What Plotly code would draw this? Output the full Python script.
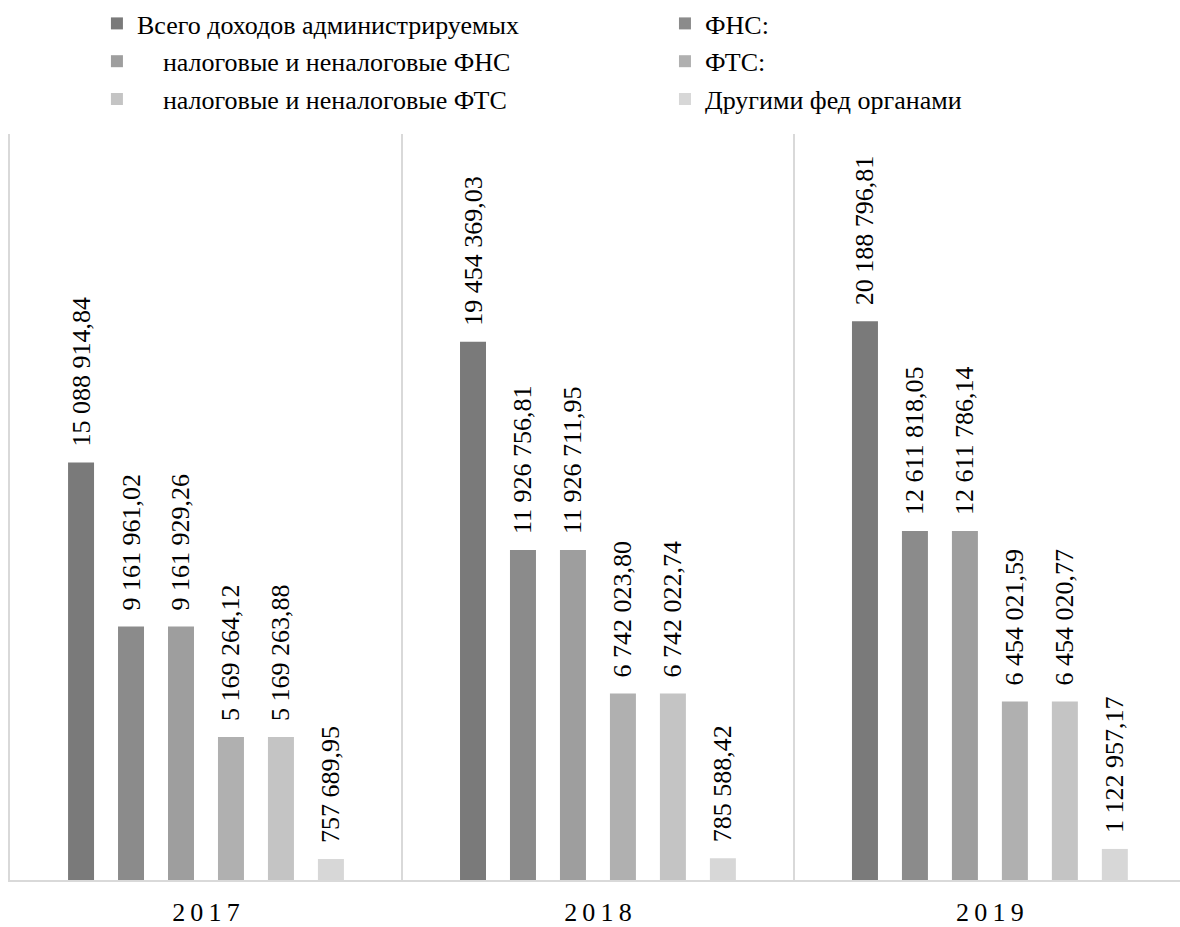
import plotly.graph_objects as go

years = ["2017", "2018", "2019"]
year_ticks = ["2\u20090\u20091\u20097", "2\u20090\u20091\u20098", "2\u20090\u20091\u20099"]

series_names = [
    "Всего доходов администрируемых",
    "ФНС:",
    "\u00a0\u00a0\u00a0\u00a0налоговые и неналоговые ФНС",
    "ФТС:",
    "\u00a0\u00a0\u00a0\u00a0налоговые и неналоговые ФТС",
    "Другими фед органами",
]

total_admin = [15088914.84, 19454369.03, 20188796.81]
fns = [9161961.02, 11926756.81, 12611818.05]
fns_tax = [9161929.26, 11926711.95, 12611786.14]
fts = [5169264.12, 6742023.80, 6454021.59]
fts_tax = [5169263.88, 6742022.74, 6454020.77]
other_bodies = [757689.95, 785588.42, 1122957.17]

series_values = [total_admin, fns, fns_tax, fts, fts_tax, other_bodies]
colors = ["#7a7a7a", "#8b8b8b", "#9e9e9e", "#b0b0b0", "#c4c4c4", "#d7d7d7"]
# left legend column / right legend column
legend_ids = ["legend", "legend2", "legend", "legend2", "legend", "legend2"]

FONT = "'Liberation Serif', 'Times New Roman', Times, serif"

fig = go.Figure()
for i, (name, vals) in enumerate(zip(series_names, series_values)):
    fig.add_trace(go.Bar(
        x=years,
        y=vals,
        name=name,
        marker=dict(color=colors[i], line=dict(width=0)),
        texttemplate="\u00a0\u00a0%{y:,.2f}",
        textposition="outside",
        textangle=-90,
        textfont=dict(family=FONT, size=26, color="#000000"),
        constraintext="none",
        cliponaxis=False,
        legend=legend_ids[i],
        legendgroup=f"g{i}",
        hoverinfo="skip",
    ))

legend_common = dict(
    orientation="v",
    yanchor="top",
    xanchor="left",
    y=1.18,
    font=dict(family=FONT, size=26, color="#000000"),
    bgcolor="rgba(0,0,0,0)",
    tracegroupgap=1,
    itemclick=False,
    itemdoubleclick=False,
)

fig.update_layout(
    width=1180,
    height=927,
    margin=dict(l=10, r=0, t=130, b=47),
    paper_bgcolor="#ffffff",
    plot_bgcolor="#ffffff",
    separators=", ",
    barmode="group",
    bargap=0.235,
    bargroupgap=0.48,
    showlegend=True,
    legend=dict(legend_common, x=0.0743),
    legend2=dict(legend_common, x=0.5598),
    font=dict(family=FONT, size=26, color="#000000"),
    xaxis=dict(
        type="category",
        range=[-0.5, 2.485],
        tickmode="array",
        tickvals=years,
        ticktext=year_ticks,
        tickson="boundaries",
        ticks="",
        ticklabelstandoff=8,
        showgrid=True,
        gridcolor="#d9d9d9",
        gridwidth=1.5,
        showline=True,
        linecolor="#d9d9d9",
        linewidth=2,
        tickfont=dict(family=FONT, size=26, color="#000000"),
        fixedrange=True,
    ),
    yaxis=dict(
        range=[0, 26960000],
        showgrid=False,
        zeroline=False,
        showticklabels=False,
        ticks="",
        showline=True,
        linecolor="#d9d9d9",
        linewidth=1.5,
        fixedrange=True,
    ),
)

fig.write_html("out.html")
